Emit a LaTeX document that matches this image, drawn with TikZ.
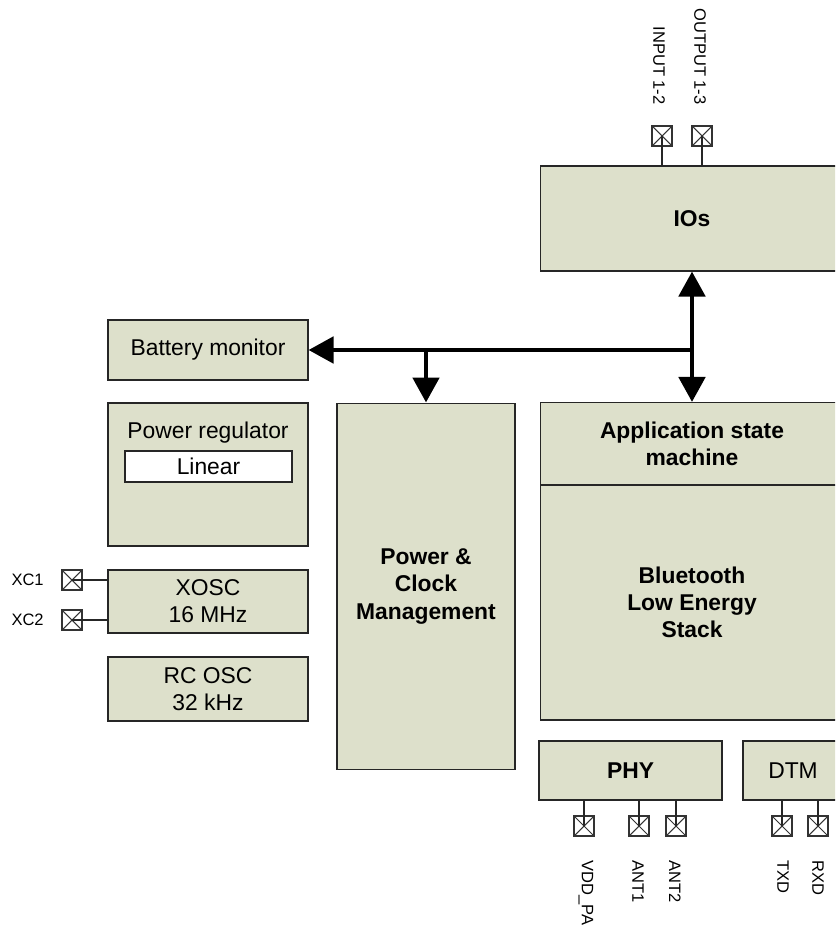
\documentclass[tikz,border=0pt]{standalone}
\usepackage{fontspec}
\setmainfont{Liberation Sans}
\usetikzlibrary{
  arrows.meta,
  positioning
}

\definecolor{blockfill}{RGB}{221,224,203}

\begin{document}
\begin{tikzpicture}[x=0.02cm, y=-0.02cm,
  blk/.style={draw=black!85, fill=blockfill, line width=0.6pt, inner sep=0pt,
    align=center, font=\fontsize{13}{15.5}\selectfont},
  pin/.style={draw=black!80, fill=white, line width=0.6pt, minimum size=0.4cm,
    inner sep=0pt,
    path picture={\draw[black!80, line width=0.6pt]
      (path picture bounding box.north west) -- (path picture bounding box.south east)
      (path picture bounding box.south west) -- (path picture bounding box.north east);}},
  pinlbl/.style={font=\fontsize{9.4}{10}\selectfont, inner sep=0pt},
  wire/.style={draw=black!85, line width=0.6pt},
  bus/.style={line width=2.8pt, -{Triangle[length=0.5cm, width=0.52cm]}}
]

\clip (0,0) rectangle (835,926);

% Blocks on the right
\node[blk, minimum width=6.08cm, minimum height=2.1cm, font=\fontsize{13}{15.5}\selectfont\bfseries]
  (ios) at (692,218.5) {IOs};
\node[blk, minimum width=6.08cm, minimum height=1.64cm, font=\fontsize{13}{15.5}\selectfont\bfseries]
  (asm) at (692,443.5) {Application state\\machine};
\node[blk, minimum width=6.08cm, minimum height=4.7cm, font=\fontsize{13}{15.5}\selectfont\bfseries]
  (ble) at (692,602.5) {Bluetooth\\Low Energy\\Stack};
\node[blk, minimum width=3.66cm, minimum height=1.18cm, font=\fontsize{13}{15.5}\selectfont\bfseries]
  (phy) at (630.5,770.5) {PHY};
\node[blk, minimum width=2cm, minimum height=1.18cm] (dtm) at (793,770.5) {DTM};

% Power & clock management
\node[blk, minimum width=3.56cm, minimum height=7.34cm, font=\fontsize{13}{15.5}\selectfont\bfseries]
  (pcm) at (426,586.5) {Power \&\\Clock\\Management};

% Blocks on the left
\node[blk, minimum width=4cm, minimum height=1.2cm] (batt) at (208,350) {Battery monitor};
\node[blk, minimum width=4cm, minimum height=2.86cm] (preg) at (208,474.5) {};
\node[font=\fontsize{13}{15.5}\selectfont] (pregtxt) at (208,433) {Power regulator};
\node[blk, fill=white, minimum width=3.34cm, minimum height=0.62cm] (lin) at (208.5,466.5) {Linear};
\node[blk, minimum width=4cm, minimum height=1.26cm] (xosc) at (208,601.5) {XOSC\\16 MHz};
\node[blk, minimum width=4cm, minimum height=1.28cm] (rcosc) at (208,689) {RC OSC\\32 kHz};

% Bus
\coordinate (bus) at (692,350);
\draw[bus] (bus) -- (batt.east);
\draw[bus] (pcm.north |- bus) -- (pcm.north);
\draw[bus, {Triangle[length=0.5cm, width=0.52cm]}-{Triangle[length=0.5cm, width=0.52cm]}]
  (ios.south) -- (asm.north);

% IO pins
\node[pin] (in12) at (662,136) {};
\node[pin] (out13) at (702,136) {};
\draw[wire] (in12.center) -- (in12 |- ios.north);
\draw[wire] (out13.center) -- (out13 |- ios.north);
\node[pinlbl, rotate=-90, anchor=east] (in12lbl) at (659,105) {INPUT 1-2};
\node[pinlbl, rotate=-90, anchor=east] (out13lbl) at (700,105) {OUTPUT 1-3};

% Crystal pins
\node[pin] (xc1) at (72,580) {};
\node[pin] (xc2) at (72,620) {};
\draw[wire] (xc1.center) -- (xc1 -| xosc.west);
\draw[wire] (xc2.center) -- (xc2 -| xosc.west);
\node[pinlbl, anchor=east] (xc1lbl) at (44,580) {XC1};
\node[pinlbl, anchor=east] (xc2lbl) at (44,620) {XC2};

% Radio and test pins
\node[pin] (vddpa) at (584,826) {};
\node[pin] (ant1) at (639,826) {};
\node[pin] (ant2) at (676,826) {};
\node[pin] (txd) at (782,826) {};
\node[pin] (rxd) at (818,826) {};
\foreach \p in {vddpa,ant1,ant2}
  \draw[wire] (\p.center) -- (\p |- phy.south);
\foreach \p in {txd,rxd}
  \draw[wire] (\p.center) -- (\p |- dtm.south);
\node[pinlbl, rotate=-90, anchor=west] (vddpalbl) at (586,860) {VDD\_PA};
\node[pinlbl, rotate=-90, anchor=west] (ant1lbl) at (638,860) {ANT1};
\node[pinlbl, rotate=-90, anchor=west] (ant2lbl) at (675,860) {ANT2};
\node[pinlbl, rotate=-90, anchor=west] (txdlbl) at (783,860) {TXD};
\node[pinlbl, rotate=-90, anchor=west] (rxdlbl) at (818,860) {RXD};

\end{tikzpicture}
\end{document}
